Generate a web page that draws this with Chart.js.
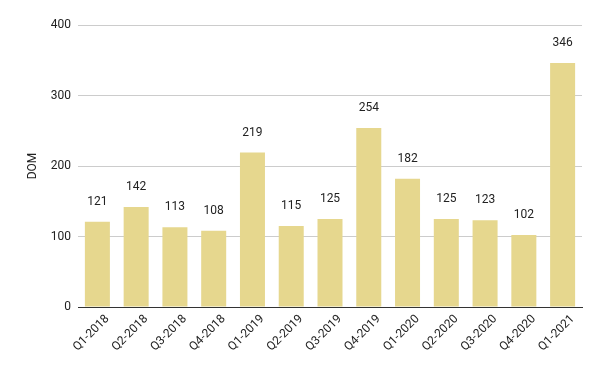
<!DOCTYPE html>
<html>
<head>
<meta charset="utf-8">
<script src="https://cdn.jsdelivr.net/npm/chart.js@4"></script>
<style>
  html, body { margin: 0; padding: 0; background: #fff; }
  #wrap { width: 600px; height: 371px; }
</style>
</head>
<body>
<div id="wrap"><canvas id="chart" width="600" height="371"></canvas></div>
<script>
const quarters = ["Q1-2018", "Q2-2018", "Q3-2018", "Q4-2018", "Q1-2019", "Q2-2019", "Q3-2019",
  "Q4-2019", "Q1-2020", "Q2-2020", "Q3-2020", "Q4-2020", "Q1-2021"];
const domValues = [121, 142, 113, 108, 219, 115, 125, 254, 182, 125, 123, 102, 346];
const yTicks = [0, 100, 200, 300, 400];

// labels above each bar
const barLabels = {
  id: "barLabels",
  afterDatasetsDraw(chart) {
    const ctx = chart.ctx;
    const meta = chart.getDatasetMeta(0);
    ctx.save();
    ctx.font = "12px Roboto, Arial, sans-serif";
    ctx.fillStyle = "#222";
    ctx.textAlign = "center";
    ctx.textBaseline = "middle";
    meta.data.forEach((bar, i) => {
      ctx.fillText(domValues[i], bar.x, bar.y - 20);
    });
    ctx.restore();
  },
};

new Chart(document.getElementById("chart"), {
  type: "bar",
  data: {
    labels: quarters,
    datasets: [
      {
        label: "DOM",
        data: domValues,
        backgroundColor: "rgb(230,215,142)",
        categoryPercentage: 1,
        barPercentage: 0.645,
      },
    ],
  },
  options: {
    responsive: false,
    animation: false,
    devicePixelRatio: 1,
    layout: { padding: { left: 22, right: 18, top: 25, bottom: 0 } },
    plugins: {
      legend: { display: false },
      tooltip: { enabled: false },
    },
    scales: {
      x: {
        grid: { display: false, drawTicks: false },
        border: { color: "#333", width: 1 },
        ticks: {
          color: "#222",
          font: { family: "Roboto, Arial, sans-serif", size: 12 },
          minRotation: 45,
          maxRotation: 45,
          padding: 5,
          labelOffset: 10,
        },
        afterFit(scale) {
          scale.height = 64;
        },
      },
      y: {
        min: 0,
        max: 400,
        afterBuildTicks(scale) {
          scale.ticks = yTicks.map((v) => ({ value: v }));
        },
        grid: { color: "#cccccc", drawTicks: false },
        border: { display: false },
        ticks: {
          color: "#222",
          font: { family: "Roboto, Arial, sans-serif", size: 12 },
          padding: 7,
        },
        title: {
          display: true,
          text: "DOM",
          color: "#222",
          font: { family: "Roboto, Arial, sans-serif", size: 12 },
        },
        afterFit(scale) {
          scale.width = 56;
        },
      },
    },
  },
  plugins: [barLabels],
});
</script>
</body>
</html>
